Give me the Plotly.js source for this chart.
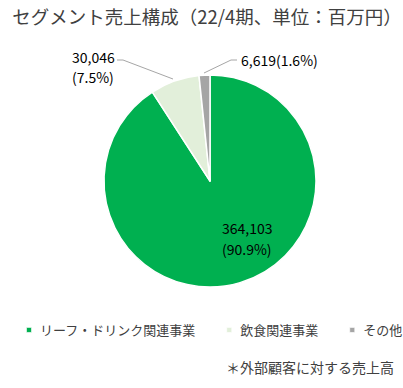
<!DOCTYPE html>
<html><head><meta charset="utf-8">
<script src="https://cdn.plot.ly/plotly-3.0.1.min.js"></script>
<style>
html,body{margin:0;padding:0;background:#fff}
#c{width:403px;height:388px}
#c .legendpoints path{transform:translate(29px,0) scale(0.42)}
</style>
</head><body><div id="c"></div>
<script>
const segments = ['リーフ・ドリンク関連事業', '飲食関連事業', 'その他'];
const sales = [364103, 30046, 6619];
const shares = ['90.9', '7.5', '1.6'];
const colors = ['#00B050', '#E2EFDA', '#A5A5A5'];
const titleText = 'セグメント売上構成（22/4期、単位：百万円）';
const footnote = '＊外部顧客に対する売上高';

const W = 403, H = 388;
const fx = x => x / W;
const fy = y => 1 - y / H;
const fmt = v => v.toLocaleString('en-US');
const JP = '"Noto Sans CJK JP", "Noto Sans", sans-serif';

const trace = {
  type: 'pie',
  labels: segments,
  values: sales,
  sort: false,
  direction: 'clockwise',
  rotation: 0,
  textinfo: 'none',
  hoverinfo: 'none',
  marker: {colors: colors, line: {color: '#ffffff', width: 1.5}},
  domain: {x: [fx(104), fx(316)], y: [fy(287), fy(75)]}
};

function ann(text, x, y, xanchor, size, color) {
  return {text: text, x: fx(x), y: fy(y), xref: 'paper', yref: 'paper',
    xanchor: xanchor, yanchor: 'middle', showarrow: false,
    font: {family: JP, size: size, color: color}};
}

const annotations = [
  ann(fmt(sales[0]), 247, 228, 'center', 14, '#000'),
  ann('(' + shares[0] + '%)', 247, 249, 'center', 14, '#000'),
  ann(fmt(sales[1]), 70, 57, 'left', 14, '#000'),
  ann('(' + shares[1] + '%)', 70, 77, 'left', 14, '#000'),
  ann(fmt(sales[2]) + '(' + shares[2] + '%)', 239, 60, 'left', 14, '#000'),
  ann(footnote, 396, 367, 'right', 14, '#404040')
];

function pathPx(pts) {
  return pts.map((p, i) => (i ? 'L' : 'M') + fx(p[0]) + ',' + fy(p[1])).join(' ');
}
const shapes = [
  {type: 'path', xref: 'paper', yref: 'paper', path: pathPx([[117, 60], [123, 60], [173, 79]]), line: {color: '#A6A6A6', width: 1}},
  {type: 'path', xref: 'paper', yref: 'paper', path: pathPx([[237, 60], [231, 60], [204, 73]]), line: {color: '#A6A6A6', width: 1}}
];

const layout = {
  width: W, height: H,
  margin: {l: 0, r: 0, t: 0, b: 0},
  paper_bgcolor: '#fff',
  title: {text: titleText, x: fx(207), xanchor: 'center', y: fy(18), yanchor: 'middle',
    font: {family: JP, size: 18.5, color: '#404040'}},
  showlegend: true,
  legend: {orientation: 'h', x: fx(204.5), xanchor: 'center', y: fy(330), yanchor: 'middle',
    font: {family: JP, size: 13, color: '#404040'}, itemwidth: 30, tracegroupgap: 0,
    itemclick: false},
  annotations: annotations,
  shapes: shapes
};

Plotly.newPlot('c', [trace], layout, {staticPlot: true, displayModeBar: false});
</script>
</body></html>
